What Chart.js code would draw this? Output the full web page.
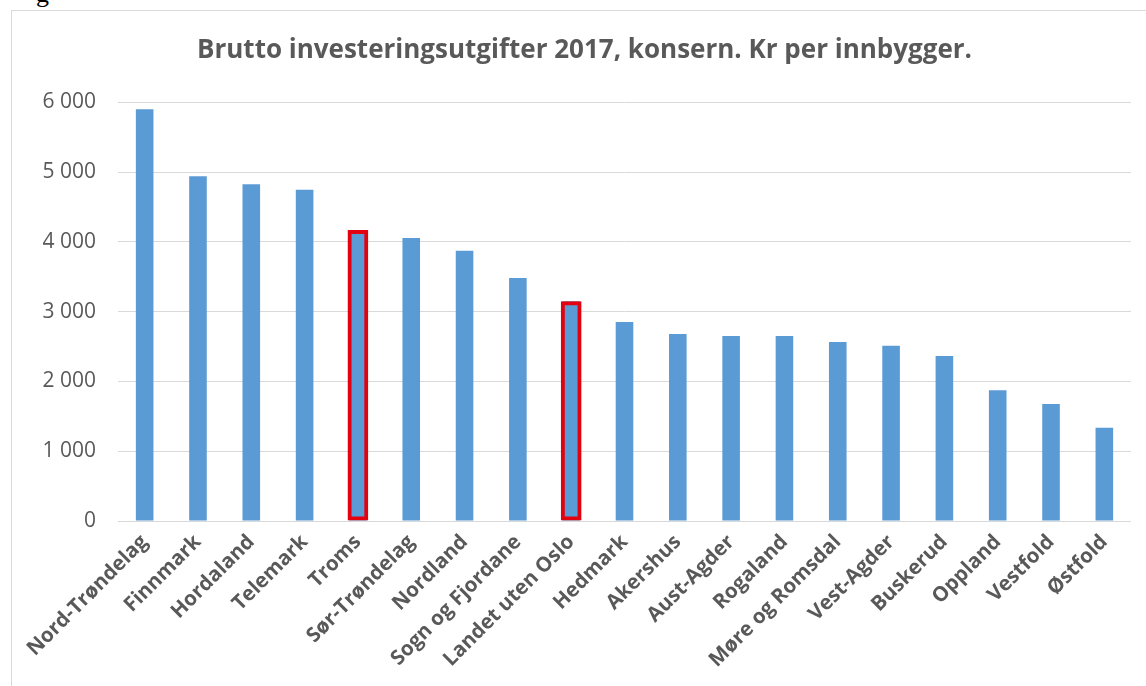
<!DOCTYPE html>
<html>
<head>
<meta charset="utf-8">
<script src="https://cdn.jsdelivr.net/npm/chart.js@4"></script>
<style>
  html, body { margin: 0; padding: 0; background: #fff; overflow: hidden; width: 1146px; height: 686px; }
  #frag { position: absolute; left: 36px; top: -21px; font-family: "Liberation Serif", serif; font-size: 26px; color: #000; }
  #box { position: absolute; left: 11px; top: 10px; width: 1150px; height: 690px; border: 1px solid #d9d9d9; background: #fff; }
</style>
</head>
<body>
<div id="frag">g</div>
<div id="box"><canvas id="c"></canvas></div>
<script>
const titleText = "Brutto investeringsutgifter 2017, konsern. Kr per innbygger.";
const categories = ["Nord-Trøndelag", "Finnmark", "Hordaland", "Telemark", "Troms", "Sør-Trøndelag", "Nordland", "Sogn og Fjordane", "Landet uten Oslo", "Hedmark", "Akershus", "Aust-Agder", "Rogaland", "Møre og Romsdal", "Vest-Agder", "Buskerud", "Oppland", "Vestfold", "Østfold"];
const values = [5900, 4940, 4825, 4745, 4170, 4055, 3870, 3480, 3150, 2850, 2680, 2650, 2650, 2565, 2510, 2365, 1875, 1675, 1335];
const highlighted = ["Troms", "Landet uten Oslo"];
const yTicks = [0, 1000, 2000, 3000, 4000, 5000, 6000];

const highlightValues = values.map((v, i) => highlighted.includes(categories[i]) ? v : null);

new Chart(document.getElementById('c'), {
  type: 'bar',
  data: {
    labels: categories,
    datasets: [
      {
        data: highlightValues,
        backgroundColor: 'rgba(0,0,0,0)',
        borderColor: '#e3000f',
        borderWidth: 4,
        borderSkipped: false,
        barPercentage: 0.39,
        categoryPercentage: 1,
        grouped: false,
        order: 0
      },
      {
        data: values,
        backgroundColor: '#5b9bd5',
        borderWidth: 0,
        barPercentage: 0.33,
        categoryPercentage: 1,
        grouped: false,
        order: 1
      }
    ]
  },
  options: {
    responsive: true,
    maintainAspectRatio: false,
    animation: false,
    layout: { padding: { left: 26, right: 31, top: 0, bottom: 0 } },
    plugins: {
      legend: { display: false },
      tooltip: { enabled: false },
      title: {
        display: true,
        text: titleText,
        color: '#595959',
        font: { family: 'Open Sans', size: 26, weight: 'bold' },
        padding: { top: 24, bottom: 36 }
      }
    },
    scales: {
      x: {
        grid: { display: false },
        border: { display: false },
        ticks: {
          color: '#595959',
          font: { family: 'Open Sans', size: 20.5, weight: 'bold' },
          maxRotation: 45,
          minRotation: 45,
          autoSkip: false,
          padding: 1
        },
        afterFit: (s) => { s.height = 180; }
      },
      y: {
        min: 0,
        max: 6000,
        afterBuildTicks: (s) => { s.ticks = yTicks.map(v => ({ value: v })); },
        grid: { color: '#d9d9d9', lineWidth: 1, drawTicks: false },
        border: { display: false },
        ticks: {
          color: '#595959',
          font: { family: 'Open Sans', size: 21 },
          padding: 22,
          callback: (v) => String(v).replace(/\B(?=(\d{3})+(?!\d))/g, ' ')
        },
        afterFit: (s) => { s.width = 80; }
      }
    }
  }
});
</script>
</body>
</html>
